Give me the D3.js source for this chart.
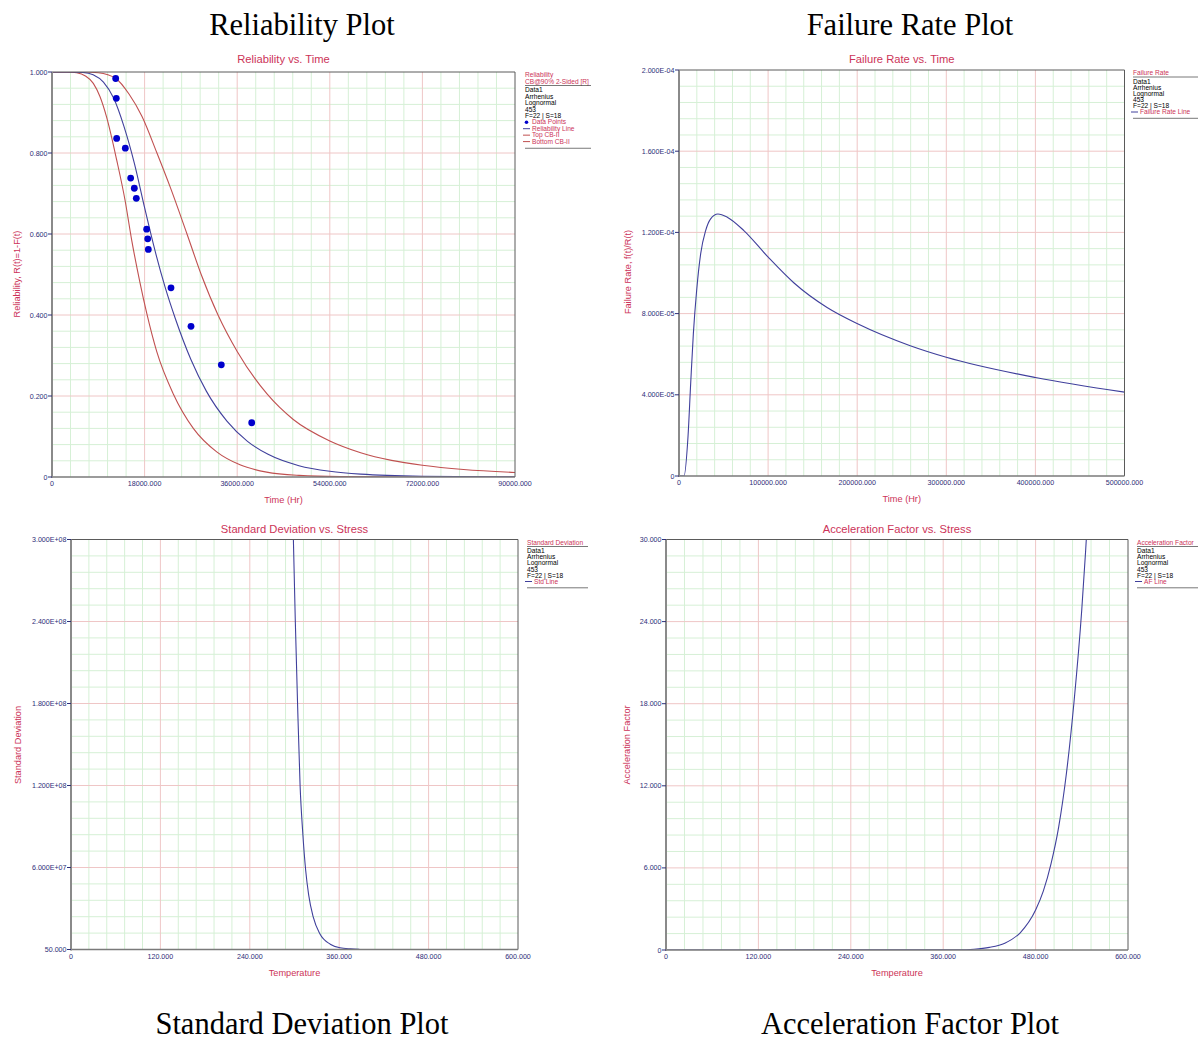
<!DOCTYPE html>
<html><head><meta charset="utf-8">
<script src="https://cdn.jsdelivr.net/npm/d3@7"></script>
<style>
html,body{margin:0;padding:0;background:#fff;}
svg{display:block;}
</style></head><body>
<svg id="chart" width="1198" height="1041"></svg>
<script>
// ---------------- DATA ----------------
const bigTitles = ["Reliability Plot", "Failure Rate Plot", "Standard Deviation Plot", "Acceleration Factor Plot"];
const legendInfo = ["Data1", "Arrhenius", "Lognormal", "453", "F=22 | S=18"];

// Reliability vs Time
const relXTicks = [0, 18000, 36000, 54000, 72000, 90000];
const relYTicks = [0, 0.2, 0.4, 0.6, 0.8, 1.0];
const relPointT = [12380, 12500, 12570, 14250, 15290, 16000, 16390, 18400, 18600, 18720, 23130, 27020, 32910, 38820];
const relPointR = [0.984, 0.935, 0.836, 0.812, 0.738, 0.713, 0.688, 0.612, 0.588, 0.562, 0.467, 0.372, 0.277, 0.134];
const relLineT = [0, 4000, 6000, 8000, 10000, 12000, 14000, 16000, 18000, 20000, 22000, 24000, 27000, 30000, 34000, 38000, 42000, 48000, 54000, 60000, 72000, 90000];
const relLineR = [1, 1, 0.999, 0.993, 0.975, 0.935, 0.865, 0.775, 0.665, 0.56, 0.468, 0.39, 0.29, 0.212, 0.138, 0.088, 0.056, 0.028, 0.014, 0.007, 0.002, 0.0003];
const topCbT = [0, 6000, 9000, 12400, 15000, 17500, 20400, 23000, 26240, 29000, 32270, 36000, 41800, 46900, 54000, 60000, 66000, 72000, 80000, 90000];
const topCbR = [1, 1, 0.998, 0.984, 0.945, 0.89, 0.80, 0.715, 0.60, 0.50, 0.40, 0.31, 0.205, 0.142, 0.089, 0.060, 0.041, 0.029, 0.0185, 0.0112];
const botCbT = [0, 3000, 4800, 6500, 8030, 9300, 10630, 12570, 14190, 15490, 17100, 18400, 20350, 23580, 27470, 32020, 36540, 41730, 48000, 56000, 70000, 90000];
const botCbR = [1, 1, 0.998, 0.99, 0.972, 0.94, 0.888, 0.783, 0.684, 0.585, 0.48, 0.405, 0.31, 0.205, 0.12, 0.062, 0.03, 0.012, 0.004, 0.001, 0.0001, 0];

// Failure Rate vs Time
const frXTicks = [0, 100000, 200000, 300000, 400000, 500000];
const frYTicks = [0, 4e-5, 8e-5, 1.2e-4, 1.6e-4, 2e-4];
const frT = [0, 5600, 10080, 13100, 16100, 19800, 24300, 29900, 35500, 43700, 54200, 72800, 100100, 128800, 166200, 200400, 259500, 300000, 400000, 500000];
const frV = [0, 0, 1.92e-5, 4.55e-5, 7.0e-5, 9.14e-5, 1.094e-4, 1.209e-4, 1.267e-4, 1.291e-4, 1.275e-4, 1.209e-4, 1.078e-4, 9.52e-5, 8.3e-5, 7.5e-5, 6.42e-5, 5.85e-5, 4.85e-5, 4.13e-5];

// Standard Deviation vs Stress
const stdXTicks = [0, 120, 240, 360, 480, 600];
const stdYTicks = [50, 6e7, 1.2e8, 1.8e8, 2.4e8, 3e8];
const stdT = [298.5, 301, 304, 307.5, 311, 315, 319, 325, 334, 348, 361, 375, 387];
const stdV = [3.0e8, 2.42e8, 1.82e8, 1.2e8, 8.6e7, 5.8e7, 4.0e7, 2.4e7, 1.15e7, 3.9e6, 1.3e6, 0.5e6, 0.2e6];

// Acceleration Factor vs Stress
const afXTicks = [0, 120, 240, 360, 480, 600];
const afYTicks = [0, 6, 12, 18, 24, 30];
const afT = [0, 380, 400, 420, 440, 460, 480, 490, 500, 510, 520, 530, 540, 545, 550];
const afV = [0, 0.02, 0.06, 0.19, 0.5, 1.26, 2.92, 4.3, 6.3, 9.0, 12.9, 18.2, 24.9, 29.2, 34];

// ---------------- STYLE ----------------
const SANS = "'Liberation Sans', Arial, sans-serif";
const SERIF = "'Liberation Serif', 'Times New Roman', serif";
const TITLE_C = "#cc3358";
const TICK_C = "#2e2e78";
const BLUE_LINE = "#40409c";
const RED_LINE = "#c05050";
const DOT_C = "#0000cc";
const GRID_MINOR = "#d6f0d6";
const GRID_MAJOR = "#efc6c6";

const svg = d3.select("#chart");
svg.append("rect").attr("width", 1198).attr("height", 1041).attr("fill", "#fff");

function fmtPlain(v) { return v === 0 ? "0" : d3.format(".3f")(v); }
function fmtExp(v) {
  if (v === 0) return "0";
  const parts = v.toExponential(3).split("e");
  const n = +parts[1];
  return parts[0] + "E" + (n < 0 ? "-" : "+") + String(Math.abs(n)).padStart(2, "0");
}
function fmtStd(v) { return v < 1e5 ? d3.format(".3f")(v) : fmtExp(v); }

let clipId = 0;
function panel(cfg) {
  const g = svg.append("g");
  const x = d3.scaleLinear().domain([cfg.xTicks[0], cfg.xTicks[cfg.xTicks.length - 1]]).range([cfg.left, cfg.right]);
  const y = d3.scaleLinear().domain([cfg.yTicks[0], cfg.yTicks[cfg.yTicks.length - 1]]).range([cfg.bottom, cfg.top]);

  const subdiv = (ticks) => {
    const out = [];
    for (let i = 0; i < ticks.length - 1; i++) {
      for (let k = 1; k < 5; k++) out.push(ticks[i] + (ticks[i + 1] - ticks[i]) * k / 5);
    }
    return out;
  };
  g.selectAll(".mx").data(subdiv(cfg.xTicks)).join("line")
    .attr("x1", d => x(d)).attr("x2", d => x(d)).attr("y1", cfg.top).attr("y2", cfg.bottom)
    .attr("stroke", GRID_MINOR).attr("stroke-width", 1);
  g.selectAll(".my").data(subdiv(cfg.yTicks)).join("line")
    .attr("y1", d => y(d)).attr("y2", d => y(d)).attr("x1", cfg.left).attr("x2", cfg.right)
    .attr("stroke", GRID_MINOR).attr("stroke-width", 1);
  g.selectAll(".Mx").data(cfg.xTicks.slice(1, -1)).join("line")
    .attr("x1", d => x(d)).attr("x2", d => x(d)).attr("y1", cfg.top).attr("y2", cfg.bottom)
    .attr("stroke", GRID_MAJOR).attr("stroke-width", 1);
  g.selectAll(".My").data(cfg.yTicks.slice(1, -1)).join("line")
    .attr("y1", d => y(d)).attr("y2", d => y(d)).attr("x1", cfg.left).attr("x2", cfg.right)
    .attr("stroke", GRID_MAJOR).attr("stroke-width", 1);

  const cid = "clip" + (clipId++);
  svg.append("clipPath").attr("id", cid).append("rect")
    .attr("x", cfg.left).attr("y", cfg.top).attr("width", cfg.right - cfg.left).attr("height", cfg.bottom - cfg.top);
  const plot = g.append("g").attr("clip-path", "url(#" + cid + ")");

  g.append("line").attr("x1", cfg.left).attr("x2", cfg.right).attr("y1", cfg.top).attr("y2", cfg.top).attr("stroke", "#5a5a5a").attr("stroke-width", 1);
  g.append("line").attr("x1", cfg.right).attr("x2", cfg.right).attr("y1", cfg.top).attr("y2", cfg.bottom).attr("stroke", "#5a5a5a").attr("stroke-width", 1);

  (cfg.series || []).forEach(s => {
    const pts = s.t.map((t, i) => [t, s.v[i]]);
    plot.append("path").datum(pts)
      .attr("d", d3.line().x(d => x(d[0])).y(d => y(d[1])).curve(d3.curveMonotoneX))
      .attr("fill", "none").attr("stroke", s.color).attr("stroke-width", 1.1);
  });

  g.append("line").attr("x1", cfg.left).attr("x2", cfg.right).attr("y1", cfg.bottom).attr("y2", cfg.bottom).attr("stroke", "#7a7a7a").attr("stroke-width", 1.6);
  g.append("line").attr("x1", cfg.left).attr("x2", cfg.left).attr("y1", cfg.top).attr("y2", cfg.bottom + 1).attr("stroke", "#8a8a8a").attr("stroke-width", 2);

  if (cfg.points) {
    plot.selectAll(".pt").data(cfg.points.t.map((t, i) => [t, cfg.points.v[i]])).join("circle")
      .attr("cx", d => x(d[0])).attr("cy", d => y(d[1])).attr("r", 3.4).attr("fill", DOT_C);
  }

  g.selectAll(".yt").data(cfg.yTicks).join("line")
    .attr("x1", cfg.left - 4).attr("x2", cfg.left).attr("y1", d => y(d)).attr("y2", d => y(d))
    .attr("stroke", TICK_C).attr("stroke-width", 1);
  g.selectAll(".yl").data(cfg.yTicks).join("text")
    .attr("x", cfg.left - 4.5).attr("y", d => y(d) + 2.5).attr("text-anchor", "end")
    .attr("font-family", SANS).attr("font-size", 7.1).attr("fill", TICK_C).text(cfg.yFmt);
  g.selectAll(".xl").data(cfg.xTicks).join("text")
    .attr("x", d => x(d)).attr("y", cfg.bottom + 9).attr("text-anchor", "middle")
    .attr("font-family", SANS).attr("font-size", 7.1).attr("fill", TICK_C).text(cfg.xFmt);

  const cx = (cfg.left + cfg.right) / 2;
  g.append("text").attr("x", cx).attr("y", cfg.titleY).attr("text-anchor", "middle")
    .attr("font-family", SANS).attr("font-size", 11.2).attr("fill", TITLE_C).text(cfg.title);
  g.append("text").attr("x", cx).attr("y", cfg.bottom + 26).attr("text-anchor", "middle")
    .attr("font-family", SANS).attr("font-size", 9.2).attr("fill", TITLE_C).text(cfg.xLabel);
  g.append("text").attr("transform", `translate(${cfg.yLabelX},${cfg.yLabelY}) rotate(-90)`)
    .attr("text-anchor", "middle").attr("font-family", SANS).attr("font-size", 9.2)
    .attr("fill", TITLE_C).text(cfg.yLabel);

  g.append("text").attr("x", cfg.bigX).attr("y", cfg.bigY).attr("text-anchor", "middle")
    .attr("font-family", SERIF).attr("font-size", 30.5).attr("fill", "#000").text(cfg.big);

  const L = cfg.legend;
  const sp = L.sp || 6.1;
  const lg = g.append("g").attr("font-family", SANS).attr("font-size", 6.6);
  let yy = cfg.top + 5;
  L.headers.forEach((h, i) => {
    lg.append("text").attr("x", L.x).attr("y", yy).attr("fill", TITLE_C).text(h);
    if (i < L.headers.length - 1) yy += 6.5;
  });
  lg.append("line").attr("x1", L.x).attr("x2", L.x + L.w).attr("y1", yy + 2).attr("y2", yy + 2).attr("stroke", "#555").attr("stroke-width", 0.8);
  yy += 8.7;
  legendInfo.forEach(s => {
    lg.append("text").attr("x", L.x).attr("y", yy).attr("fill", "#000").text(s);
    yy += sp;
  });
  L.items.forEach(it => {
    if (it.type === "dot") {
      lg.append("circle").attr("cx", L.x + 1.5).attr("cy", yy - 2.2).attr("r", 1.8).attr("fill", it.color);
    } else {
      lg.append("line").attr("x1", L.x - 2).attr("x2", L.x + 5).attr("y1", yy - 2.2).attr("y2", yy - 2.2).attr("stroke", it.color).attr("stroke-width", 1);
    }
    lg.append("text").attr("x", L.x + 7).attr("y", yy).attr("fill", TITLE_C).text(it.label);
    yy += sp;
  });
  lg.append("line").attr("x1", L.x).attr("x2", L.x + L.w).attr("y1", yy - 2).attr("y2", yy - 2).attr("stroke", "#555").attr("stroke-width", 0.8);
}

panel({
  left: 52, right: 515, top: 72, bottom: 477, titleY: 63,
  xTicks: relXTicks, yTicks: relYTicks, xFmt: fmtPlain, yFmt: fmtPlain,
  title: "Reliability vs. Time", xLabel: "Time (Hr)", yLabel: "Reliability, R(t)=1-F(t)",
  yLabelX: 20, yLabelY: 274,
  big: bigTitles[0], bigX: 302, bigY: 35,
  series: [
    { t: topCbT, v: topCbR, color: RED_LINE },
    { t: botCbT, v: botCbR, color: RED_LINE },
    { t: relLineT, v: relLineR, color: BLUE_LINE }
  ],
  points: { t: relPointT, v: relPointR },
  legend: { x: 525, w: 66, sp: 6.45, headers: ["Reliability", "CB@90% 2-Sided [R]"],
    items: [{ type: "dot", color: DOT_C, label: "Data Points" }, { type: "line", color: BLUE_LINE, label: "Reliability Line" },
            { type: "line", color: RED_LINE, label: "Top CB-II" }, { type: "line", color: RED_LINE, label: "Bottom CB-II" }] }
});

panel({
  left: 679, right: 1124.5, top: 70, bottom: 476, titleY: 63,
  xTicks: frXTicks, yTicks: frYTicks, xFmt: fmtPlain, yFmt: fmtExp,
  title: "Failure Rate vs. Time", xLabel: "Time (Hr)", yLabel: "Failure Rate, f(t)/R(t)",
  yLabelX: 631, yLabelY: 272,
  big: bigTitles[1], bigX: 910, bigY: 35,
  series: [{ t: frT, v: frV, color: BLUE_LINE }],
  legend: { x: 1133, w: 66, headers: ["Failure Rate"],
    items: [{ type: "line", color: BLUE_LINE, label: "Failure Rate Line" }] }
});

panel({
  left: 71, right: 518, top: 539.5, bottom: 949.5, titleY: 533,
  xTicks: stdXTicks, yTicks: stdYTicks, xFmt: fmtPlain, yFmt: fmtStd,
  title: "Standard Deviation vs. Stress", xLabel: "Temperature", yLabel: "Standard Deviation",
  yLabelX: 21, yLabelY: 745,
  big: bigTitles[2], bigX: 302, bigY: 1034,
  series: [{ t: stdT, v: stdV, color: BLUE_LINE }],
  legend: { x: 527, w: 61, headers: ["Standard Deviation"],
    items: [{ type: "line", color: BLUE_LINE, label: "Std Line" }] }
});

panel({
  left: 666, right: 1128, top: 539.5, bottom: 950, titleY: 533,
  xTicks: afXTicks, yTicks: afYTicks, xFmt: fmtPlain, yFmt: fmtPlain,
  title: "Acceleration Factor vs. Stress", xLabel: "Temperature", yLabel: "Acceleration Factor",
  yLabelX: 630, yLabelY: 745,
  big: bigTitles[3], bigX: 910, bigY: 1034,
  series: [{ t: afT, v: afV, color: BLUE_LINE }],
  legend: { x: 1137, w: 64, headers: ["Acceleration Factor"],
    items: [{ type: "line", color: BLUE_LINE, label: "AF Line" }] }
});
</script>
</body></html>
